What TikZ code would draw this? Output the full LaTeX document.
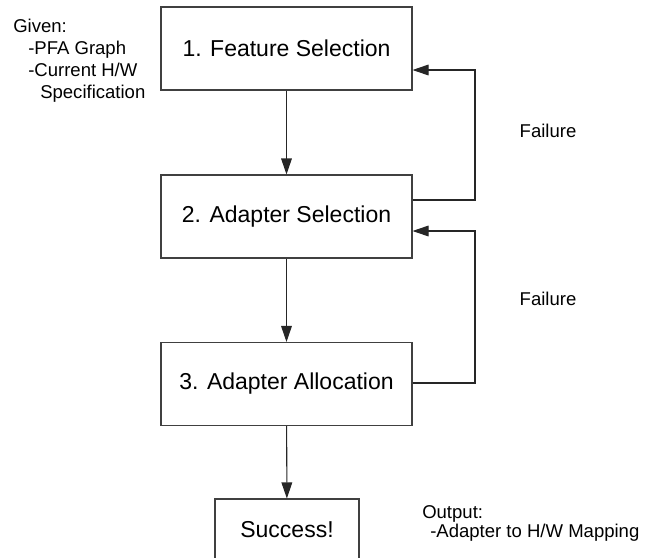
\documentclass[tikz,border=0pt]{standalone}
\usepackage{fontspec}
\setmainfont{Liberation Sans}
\usetikzlibrary{arrows.meta}
\tikzset{>={Triangle[length=12pt,width=8pt]}}
\colorlet{boxcol}{black!75}
\colorlet{flowcol}{black!85}
\tikzset{
  stage/.style={draw=boxcol,line width=0.8pt,minimum width=188.25pt,
                minimum height=62.25pt,inner sep=0pt,
                font=\fontsize{17.25}{20}\selectfont},
  note/.style={anchor=base west,inner sep=0pt,
               font=\fontsize{13.9}{16}\selectfont},
  flow/.style={->,flowcol,line width=0.8pt}}

\begin{document}
\begin{tikzpicture}[x=0.75pt,y=-0.75pt]
  \useasboundingbox (0,0) rectangle (662,558);

  % STAGES
  \node[stage] (feat)    at (286.5,48.5) {1. Feature Selection};
  \node[stage] (adsel)   at (286.5,216.5) {2. Adapter Selection};
  \node[stage] (adalloc) at (286.5,384) {3. Adapter Allocation};
  \node[stage,minimum width=108pt,minimum height=46.5pt] (success)
       at (287,530) {Success!};

  % NOTES
  \node[note] (given) at (13,32) {Given:};
  \node[note] (pfa)   at (28,54) {-PFA Graph};
  \node[note] (curhw) at (28,76) {-Current H/W};
  \node[note] (spec)  at (40,98) {Specification};
  \node[note] (output) at (422,518) {Output:};
  \node[note] (mapping) at (430,537) {-Adapter to H/W Mapping};
  \node[note,anchor=center] (fail1) at (548,131) {Failure};
  \node[note,anchor=center] (fail2) at (548,299) {Failure};

  % FORWARD
  \draw[flow] (feat) -- (adsel);
  \draw[flow] (adsel) -- (adalloc);
  \draw[flow] (adalloc) -- (success);

  % FEEDBACK
  \coordinate (back1) at (475,200);
  \coordinate (back1t) at (475,70);
  \coordinate (back2) at (475,383);
  \coordinate (back2t) at (475,231);
  \draw[flow] (back1 -| adsel.east) -- (back1) -- (back1t) -- (back1t -| feat.east);
  \draw[flow] (back2 -| adalloc.east) -- (back2) -- (back2t) -- (back2t -| adsel.east);

\end{tikzpicture}
\end{document}
